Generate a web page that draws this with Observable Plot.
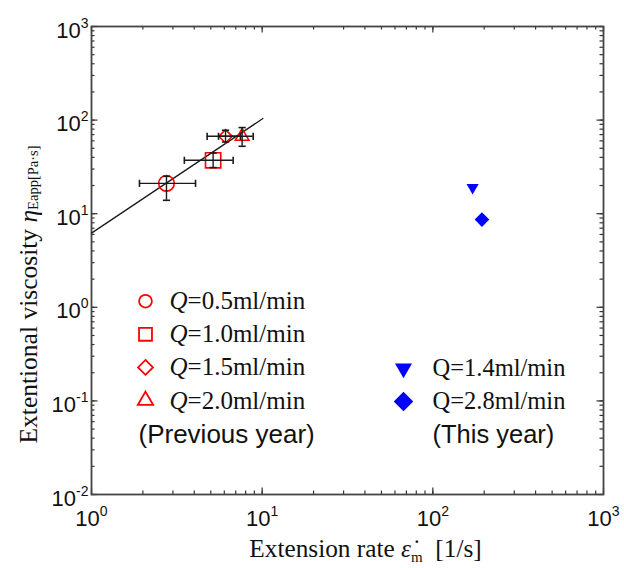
<!DOCTYPE html>
<html><head><meta charset="utf-8">
<script src="https://cdn.jsdelivr.net/npm/d3@7"></script>
<script src="https://cdn.jsdelivr.net/npm/@observablehq/plot@0.6"></script>
<style>body{margin:0;background:#fff}</style>
</head><body><div id="chart"></div>
<script>
// ---- data ----
const prevLabels = ["Q=0.5ml/min", "Q=1.0ml/min", "Q=1.5ml/min", "Q=2.0ml/min"];
const prevSymbols = ["circle", "square", "diamond2", "triangle"];
const prevRate   = [2.75, 5.16, 6.1, 7.63];
const prevRateLo = [1.91, 3.5, 4.76, 5.55];
const prevRateHi = [4.07, 6.76, 7.46, 8.86];
const prevVisc   = [21.1, 37.2, 67.1, 67.1];
const prevViscLo = [13.9, 31.1, 58.4, 52.5];
const prevViscHi = [25.1, 44.5, 77.9, 83.2];
const fitRate = [1, 10.1];
const fitVisc = [6.2, 104];
const thisLabels = ["Q=1.4ml/min", "Q=2.8ml/min"];
const thisSymbols = ["triangle", "diamond2"];
const thisRotate = [180, 0];
const thisRate = [171, 194];
const thisVisc = [19.0, 8.65];
const xTicks = [1, 10, 100, 1000];
const yTicks = [0.01, 0.1, 1, 10, 100, 1000];
const prevNote = "(Previous year)";
const thisNote = "(This year)";
const xTitleParts = ["Extension rate ", "ε\u0307", "m", "  [1/s]"];
const yTitleParts = ["Extentional viscosity ", "η", "Eapp[Pa·s]"];
const xTitle = xTitleParts.join("");
const yTitle = yTitleParts.join("");

// ---- layout ----
const W = 624, H = 568, mL = 91, mT = 26, mR = 21, mB = 74;
const innerW = W - mL - mR, innerH = H - mT - mB;
const serif = "Liberation Serif", sans = "Liberation Sans";
const red = "#ff0000", blue = "#0000ff", ink = "#1a1a1a";

const xMinor = d3.scaleLog().domain([1, 1000]).ticks();
const yMinor = d3.scaleLog().domain([0.01, 1000]).ticks();
const minorLen = 3.5, majorLen = 6.5;

const capV = {draw(ctx, size) { const h = Math.sqrt(size / Math.PI); ctx.moveTo(0, -h); ctx.lineTo(0, h); }};
const capH = {draw(ctx, size) { const h = Math.sqrt(size / Math.PI); ctx.moveTo(-h, 0); ctx.lineTo(h, 0); }};

const idx = d3.range(prevRate.length);
const tickStroke = {stroke: "#333", strokeWidth: 1.2};

const prevDataR = [7.8, 8.6, 6.0, 5.0];
const prevLegR = [6.4, 7.3, 6.7, 5.7];
const thisDataR = [4.5, 6.6];
const thisLegR = [6.3, 8.8];
const legRowGap = 33.1;
const txt = {lineAnchor: "middle", fill: "#111"};

const marks = [
  // inward ticks, all four sides
  Plot.ruleX(xMinor, {x: d => d, insetTop: innerH - minorLen, ...tickStroke}),
  Plot.ruleX(xMinor, {x: d => d, insetBottom: innerH - minorLen, ...tickStroke}),
  Plot.ruleX(xTicks, {x: d => d, insetTop: innerH - majorLen, ...tickStroke}),
  Plot.ruleX(xTicks, {x: d => d, insetBottom: innerH - majorLen, ...tickStroke}),
  Plot.ruleY(yMinor, {y: d => d, insetRight: innerW - minorLen, ...tickStroke}),
  Plot.ruleY(yMinor, {y: d => d, insetLeft: innerW - minorLen, ...tickStroke}),
  Plot.ruleY(yTicks, {y: d => d, insetRight: innerW - majorLen, ...tickStroke}),
  Plot.ruleY(yTicks, {y: d => d, insetLeft: innerW - majorLen, ...tickStroke}),
  Plot.frame({stroke: "#444", strokeWidth: 1.8}),
  // tick labels
  Plot.text(yTicks, {y: d => d, frameAnchor: "left", dx: -3, dy: 4, textAnchor: "end", ...txt,
    text: d => "10^" + Math.round(Math.log10(d)), fontFamily: sans, fontSize: 22}),
  Plot.text(xTicks, {x: d => d, frameAnchor: "bottom", dy: 24, textAnchor: "middle", ...txt,
    text: d => "10^" + Math.round(Math.log10(d)), fontFamily: sans, fontSize: 22}),
  // axis titles
  Plot.text([xTitle], {frameAnchor: "bottom", dx: 18, dy: 54, textAnchor: "middle", ...txt, fontFamily: serif, fontSize: 25.3}),
  Plot.text([yTitle], {frameAnchor: "left", dx: -63, dy: 34, rotate: -90, textAnchor: "middle", ...txt, fontFamily: serif, fontSize: 25.5}),
  // fit line
  Plot.line(d3.range(fitRate.length), {x: i => fitRate[i], y: i => fitVisc[i], stroke: ink, strokeWidth: 1.3}),
  // previous-year markers
  ...idx.map(i => Plot.dot([i], {x: i => prevRate[i], y: i => prevVisc[i], symbol: prevSymbols[i], r: prevDataR[i],
    stroke: red, fill: "none", strokeWidth: 1.6})),
  // error bars
  Plot.ruleY(idx, {y: i => prevVisc[i], x1: i => prevRateLo[i], x2: i => prevRateHi[i], stroke: ink, strokeWidth: 1.4}),
  Plot.ruleX(idx, {x: i => prevRate[i], y1: i => prevViscLo[i], y2: i => prevViscHi[i], stroke: ink, strokeWidth: 1.4}),
  Plot.dot(idx, {x: i => prevRateLo[i], y: i => prevVisc[i], symbol: capV, r: 3.6, stroke: ink, strokeWidth: 1.6}),
  Plot.dot(idx, {x: i => prevRateHi[i], y: i => prevVisc[i], symbol: capV, r: 3.6, stroke: ink, strokeWidth: 1.6}),
  Plot.dot(idx, {x: i => prevRate[i], y: i => prevViscLo[i], symbol: capH, r: 3.6, stroke: ink, strokeWidth: 1.6}),
  Plot.dot(idx, {x: i => prevRate[i], y: i => prevViscHi[i], symbol: capH, r: 3.6, stroke: ink, strokeWidth: 1.6}),
  // this-year markers
  ...thisRate.map((_, i) => Plot.dot([i], {x: i => thisRate[i], y: i => thisVisc[i], symbol: thisSymbols[i],
    rotate: thisRotate[i], r: thisDataR[i], fill: blue, stroke: "none"})),
  // legend: previous year
  ...idx.map(i => Plot.dot([i], {frameAnchor: "top-left", dx: 54, dy: 274.7 + legRowGap * i, symbol: prevSymbols[i],
    r: prevLegR[i], stroke: red, fill: "none", strokeWidth: 1.8})),
  ...prevLabels.map((lab, i) => Plot.text([lab], {frameAnchor: "top-left", dx: 78, dy: 274.7 + legRowGap * i, textAnchor: "start",
    ...txt, fontFamily: serif, fontSize: 25})),
  Plot.text([prevNote], {frameAnchor: "top-left", dx: 47, dy: 408, textAnchor: "start", ...txt, fontFamily: sans, fontSize: 26}),
  // legend: this year
  ...thisLabels.map((_, i) => Plot.dot([i], {frameAnchor: "top-left", dx: 312, dy: 342 + 33 * i, symbol: thisSymbols[i],
    rotate: thisRotate[i], r: thisLegR[i], fill: blue, stroke: "none"})),
  ...thisLabels.map((lab, i) => Plot.text([lab], {frameAnchor: "top-left", dx: 341, dy: 342 + 33 * i, textAnchor: "start",
    ...txt, fontFamily: serif, fontSize: 24.5})),
  Plot.text([thisNote], {frameAnchor: "top-left", dx: 341, dy: 408, textAnchor: "start", ...txt, fontFamily: sans, fontSize: 25.5})
];

const chart = Plot.plot({
  width: W, height: H,
  marginLeft: mL, marginTop: mT, marginRight: mR, marginBottom: mB,
  x: {type: "log", domain: [1, 1000], axis: null},
  y: {type: "log", domain: [0.01, 1000], axis: null},
  style: {background: "white", fontFamily: sans},
  marks
});
document.getElementById("chart").appendChild(chart);

// rich text: superscripts, italics, subscripts
d3.select(chart).selectAll("text").each(function () {
  const el = d3.select(this);
  const t = this.textContent;
  const m = /^10\^(-?\d+)$/.exec(t);
  if (m) {
    el.text("10");
    el.append("tspan").attr("font-size", 14).attr("dy", -10).text(m[1]);
  } else if (prevLabels.includes(t)) {
    el.text("");
    el.append("tspan").attr("font-style", "italic").text(t.slice(0, 1));
    el.append("tspan").text(t.slice(1));
  } else if (t === xTitle) {
    el.text("");
    el.append("tspan").text(xTitleParts[0]);
    el.append("tspan").attr("font-style", "italic").text(xTitleParts[1]);
    el.append("tspan").attr("font-size", 15).attr("dy", 5).text(xTitleParts[2]);
    el.append("tspan").attr("dy", -5).style("white-space", "pre").text(xTitleParts[3]);
  } else if (t === yTitle) {
    el.text("");
    el.append("tspan").text(yTitleParts[0]);
    el.append("tspan").attr("font-style", "italic").text(yTitleParts[1]);
    el.append("tspan").attr("font-size", 14.5).attr("dy", 1).text(yTitleParts[2]);
  }
});
</script>
</body></html>
